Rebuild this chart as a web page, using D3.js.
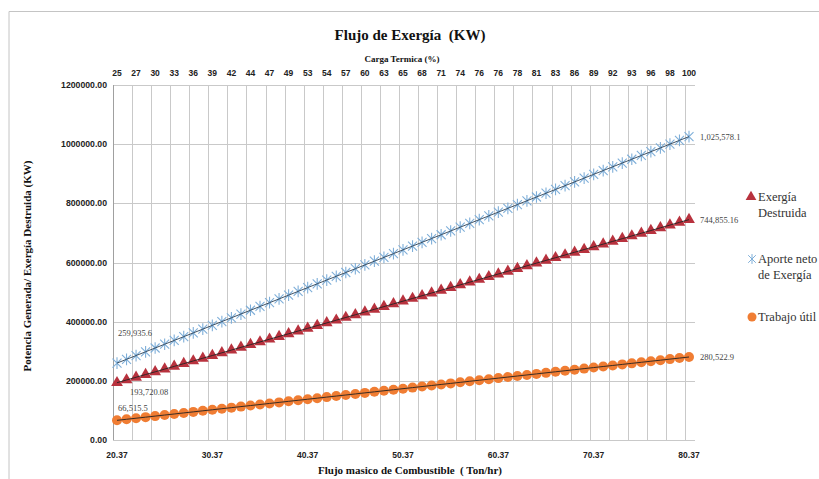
<!DOCTYPE html>
<html><head><meta charset="utf-8">
<script src="https://cdn.jsdelivr.net/npm/d3@7/dist/d3.min.js"></script>
<style>body{margin:0;background:#fff}svg{display:block}</style>
</head><body>
<svg id="c" width="819" height="479"></svg>
<script>
const flow = [20.37,21.37,22.37,23.37,24.37,25.37,26.37,27.37,28.37,29.37,30.37,31.37,32.37,33.37,34.37,35.37,36.37,37.37,38.37,39.37,40.37,41.37,42.37,43.37,44.37,45.37,46.37,47.37,48.37,49.37,50.37,51.37,52.37,53.37,54.37,55.37,56.37,57.37,58.37,59.37,60.37,61.37,62.37,63.37,64.37,65.37,66.37,67.37,68.37,69.37,70.37,71.37,72.37,73.37,74.37,75.37,76.37,77.37,78.37,79.37,80.37];
const aporte = [259935.6,272696,285457,298218,310978,323739,336500,349261,362021,374782,387543,400304,413064,425825,438586,451346,464107,476868,489628,502389,515150,527910,540671,553432,566193,578953,591714,604475,617235,629996,642757,655517,668278,681039,693800,706560,719321,732082,744842,757603,770364,783125,795885,808646,821407,834167,846928,859689,872449,885210,897971,910732,923492,936253,949014,961774,974535,987296,1000057,1012817,1025578.1];
const destruida = [193720.08,202906,212091,221277,230462,239648,248834,258019,267205,276390,285576,294761,303947,313133,322318,331504,340689,349875,359061,368246,377432,386617,395803,404988,414174,423360,432545,441731,450916,460102,469288,478473,487659,496844,506030,515216,524401,533587,542772,551958,561143,570329,579515,588700,597886,607071,616257,625443,634628,643814,652999,662185,671370,680556,689742,698927,708113,717298,726484,735670,744855.16];
const trabajo = [66515.5,70082,73649,77216,80783,84350,87916,91483,95050,98617,102183,105750,109317,112884,116451,120017,123584,127151,130718,134285,137851,141418,144985,148552,152118,155685,159252,162819,166386,169952,173519,177086,180653,184219,187786,191353,194920,198487,202053,205620,209187,212754,216320,219887,223454,227021,230588,234154,237721,241288,244855,248422,251988,255555,259122,262689,266255,269822,273389,276956,280522.9];
const cargaTermica = [25,27,30,33,36,39,42,44,47,49,53,54,57,60,63,65,68,71,74,76,76,78,81,83,86,89,92,93,96,98,100];
const yTicks = [0,200000,400000,600000,800000,1000000,1200000];
const xTicks = [20.37,30.37,40.37,50.37,60.37,70.37,80.37];
const seriesNames = ["Exergía Destruida","Aporte neto de Exergía","Trabajo útil"];
const startLabels = ["193,720.08","259,935.6","66,515.5"];
const endLabels = ["744,855.16","1,025,578.1","280,522.9"];

const svg = d3.select("#c");
const serif = "'Liberation Serif','Times New Roman',serif";
const sans = "'Liberation Sans',Arial,sans-serif";
const L = 113, R = 695, T = 85, B = 440;

svg.append("path").attr("d","M9,479V11.5H819").attr("fill","none").attr("stroke","#c4c4c4").attr("stroke-width",1);

const y = d3.scaleLinear().domain([0,1200000]).range([B,T]);
const x = d3.scaleLinear().domain([20.37,80.37]).range([117,689]);
const xTop = d3.scalePoint().domain(d3.range(cargaTermica.length)).range([113,685]);

const grid = "#c9c9c9";
svg.append("g").selectAll("line").data(yTicks).join("line")
  .attr("x1",L).attr("x2",R).attr("y1",d=>Math.round(y(d))+0.5).attr("y2",d=>Math.round(y(d))+0.5)
  .attr("stroke",grid);
svg.append("g").selectAll("line").data(d3.range(cargaTermica.length)).join("line")
  .attr("x1",d=>Math.round(xTop(d))+0.5).attr("x2",d=>Math.round(xTop(d))+0.5).attr("y1",T).attr("y2",B)
  .attr("stroke",grid);
svg.append("line").attr("x1",L+0.5).attr("x2",L+0.5).attr("y1",T).attr("y2",B).attr("stroke","#a0a0a0");

svg.append("g").selectAll("text").data(yTicks).join("text")
  .attr("x",107).attr("y",d=>y(d)+3).attr("text-anchor","end")
  .attr("font-family",sans).attr("font-weight","bold").attr("font-size",8.7).attr("fill","#222")
  .text(d=>d3.format(".2f")(d));
svg.append("g").selectAll("text").data(xTicks).join("text")
  .attr("x",d=>x(d)).attr("y",458).attr("text-anchor","middle")
  .attr("font-family",sans).attr("font-weight","bold").attr("font-size",8.5).attr("fill","#222")
  .text(d=>d.toFixed(2));
svg.append("g").selectAll("text").data(cargaTermica.map((v,i)=>[v,i])).join("text")
  .attr("x",d=>xTop(d[1])+4).attr("y",76).attr("text-anchor","middle")
  .attr("font-family",sans).attr("font-weight","bold").attr("font-size",8.5).attr("fill","#222")
  .text(d=>d[0]);

svg.append("text").attr("x",410).attr("y",40).attr("text-anchor","middle")
  .attr("font-family",serif).attr("font-weight","bold").attr("font-size",15).attr("fill","#111")
  .attr("xml:space","preserve").text("Flujo de Exergía  (KW)");
svg.append("text").attr("x",402).attr("y",62).attr("text-anchor","middle")
  .attr("font-family",serif).attr("font-weight","bold").attr("font-size",9).attr("fill","#111")
  .text("Carga Termica (%)");
svg.append("text").attr("x",410).attr("y",474).attr("text-anchor","middle")
  .attr("font-family",serif).attr("font-weight","bold").attr("font-size",11).attr("fill","#111")
  .attr("xml:space","preserve").text("Flujo masico de Combustible  ( Ton/hr)");
svg.append("text").attr("transform","translate(31,266) rotate(-90)").attr("text-anchor","middle")
  .attr("font-family",serif).attr("font-weight","bold").attr("font-size",11).attr("fill","#111")
  .text("Potencia Generada/ Exergía Destruida (KW)");

const colTri = "#b8323e", colStar = "#7fafd9", colCirc = "#f07d33";
const starPath = s => `M${-s},${-s}L${s},${s}M${-s},${s}L${s},${-s}M0,${-s*1.3}L0,${s*1.3}`;
const triPath = d3.symbol(d3.symbolTriangle, 60)();
const line = vals => d3.line().x((d,i)=>x(flow[i])).y(d=>y(d))(vals);

svg.append("g").selectAll("path").data(aporte).join("path")
  .attr("transform",(d,i)=>`translate(${x(flow[i])},${y(d)})`)
  .attr("d",starPath(4.5)).attr("stroke",colStar).attr("stroke-width",1.1).attr("fill","none");
svg.append("g").selectAll("path").data(destruida).join("path")
  .attr("transform",(d,i)=>`translate(${x(flow[i])},${y(d)})`)
  .attr("d",triPath).attr("fill",colTri);
svg.append("g").selectAll("circle").data(trabajo).join("circle")
  .attr("cx",(d,i)=>x(flow[i])).attr("cy",d=>y(d)).attr("r",5).attr("fill",colCirc);

[aporte,destruida,trabajo].forEach((vals,k)=>{
  svg.append("path").attr("d",line(vals)).attr("fill","none")
    .attr("stroke",k===0?"#2a3f55":"#222").attr("stroke-width",0.9);
});

const lab = (t,xx,yy)=>svg.append("text").attr("x",xx).attr("y",yy)
  .attr("font-family",serif).attr("font-size",8.5).attr("fill","#444").text(t);
lab(endLabels[1],700,y(aporte[60])+3);
lab(endLabels[0],700,y(destruida[60])+3);
lab(endLabels[2],700,y(trabajo[60])+3);
lab(startLabels[1],118,336);
lab(startLabels[0],130,395);
lab(startLabels[2],118,411);

const lgText = (t,xx,yy)=>svg.append("text").attr("x",xx).attr("y",yy)
  .attr("font-family",serif).attr("font-size",12.5).attr("fill","#333").text(t);
svg.append("path").attr("transform","translate(751,197)").attr("d",d3.symbol(d3.symbolTriangle,50)()).attr("fill",colTri);
lgText("Exergía",758,201);
lgText("Destruida",758,217);
svg.append("path").attr("transform","translate(752,259)").attr("d",starPath(3.8)).attr("stroke",colStar).attr("stroke-width",1).attr("fill","none");
lgText("Aporte neto",758,263);
lgText("de Exergía",758,279);
svg.append("circle").attr("cx",752).attr("cy",317).attr("r",4.5).attr("fill",colCirc);
lgText("Trabajo útil",758,321);
</script>
</body></html>
